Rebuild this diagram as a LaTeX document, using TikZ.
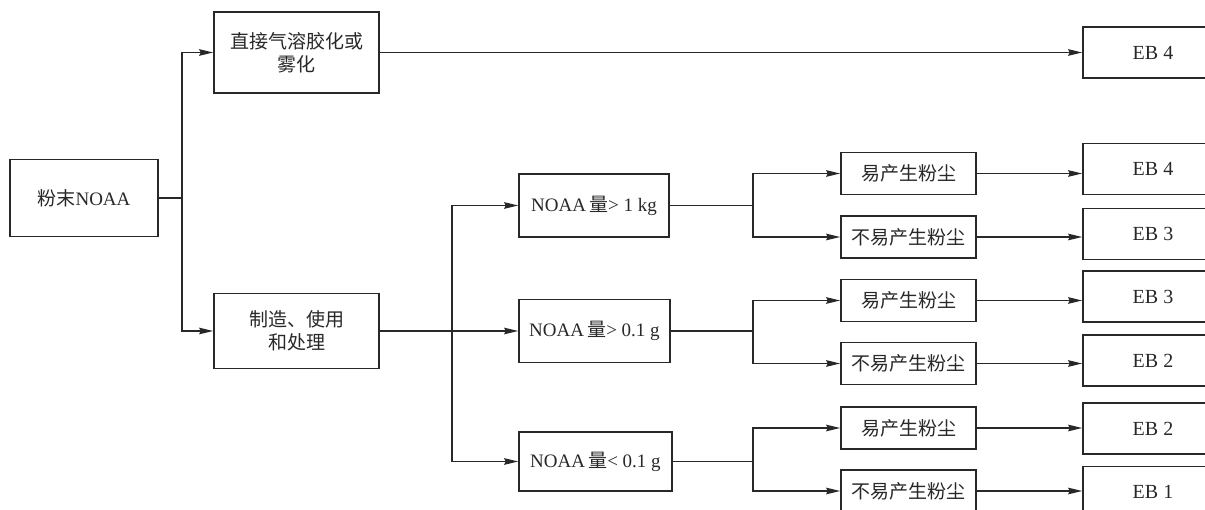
\documentclass[tikz,border=0pt]{standalone}
\usepackage{fontspec}
\newfontfamily\cjk{Noto Sans CJK SC}
\newfontfamily\tnr{Liberation Serif}
\usetikzlibrary{arrows.meta}
\definecolor{lc}{RGB}{40,40,40}
\begin{document}
\begin{tikzpicture}[x=1pt,y=-1pt,
  box/.style={draw=lc, line width=1.6pt, fill=white, inner sep=0pt, align=center,
    text=lc, font=\fontsize{19}{23}\selectfont},
  cbox/.style={box, font=\fontsize{19}{23}\selectfont\cjk},
  ebox/.style={box, font=\fontsize{20}{24}\selectfont\tnr, minimum width=140pt, minimum height=51pt},
  dbox/.style={cbox, minimum width=135pt, minimum height=42pt},
  nbox/.style={box, minimum width=150pt, minimum height=63pt},
  conn/.style={draw=lc, line width=1.6pt},
  arr/.style={conn, -{Stealth[length=14pt,width=6.5pt,inset=1.5pt]}}]
\useasboundingbox (0,0) rectangle (1205,510);
\fill[white] (0,0) rectangle (1205,510);
% left column
\node[box, minimum width=148pt, minimum height=77pt] (p) at (84,198) {{\cjk 粉末}{\tnr NOAA}};
\node[cbox, minimum width=165pt, minimum height=81pt] (a) at (296.5,52.5) {直接气溶胶化或\\雾化};
\node[cbox, minimum width=165pt, minimum height=75pt] (m) at (296.5,331) {制造、使用\\和处理};
% quantity boxes
\node[nbox] (n1) at (594,205.5) {{\tnr NOAA\,}{\cjk 量}{\tnr > 1 kg}};
\node[nbox, minimum width=151pt] (n2) at (594.5,331) {{\tnr NOAA\,}{\cjk 量}{\tnr > 0.1 g}};
\node[nbox, minimum width=153pt, minimum height=59pt] (n3) at (595.5,461.5) {{\tnr NOAA\,}{\cjk 量}{\tnr < 0.1 g}};
% dust boxes
\node[dbox] (d1) at (908.5,173.5) {易产生粉尘};
\node[dbox] (d2) at (908.5,237) {不易产生粉尘};
\node[dbox] (d3) at (908.5,300.5) {易产生粉尘};
\node[dbox] (d4) at (908.5,363.5) {不易产生粉尘};
\node[dbox] (d5) at (908.5,428) {易产生粉尘};
\node[dbox] (d6) at (908.5,491) {不易产生粉尘};
% EB boxes
\node[ebox] (e0) at (1153,52.5) {EB 4};
\node[ebox] (e1) at (1153,169) {EB 4};
\node[ebox] (e2) at (1153,234) {EB 3};
\node[ebox] (e3) at (1153,296.5) {EB 3};
\node[ebox] (e4) at (1153,360.5) {EB 2};
\node[ebox] (e5) at (1153,428.5) {EB 2};
\node[ebox] (e6) at (1153,492) {EB 1};
% branch columns
\coordinate (b1) at (182,0);
\coordinate (b2) at (452,0);
\coordinate (b3) at (753,0);
% connectors
\draw[conn] (p.east) -- (p.east -| b1);
\draw[arr] (p.east -| b1) |- (a.west);
\draw[arr] (p.east -| b1) |- (m.west);
\draw[arr] (a.east) -- (e0.west);
\draw[arr] (m.east) -- (n2.west);
\draw[arr] (m.east -| b2) |- (n1.west);
\draw[arr] (m.east -| b2) |- (n3.west);
\draw[conn] (n1.east) -- (n1.east -| b3);
\draw[arr] (n1.east -| b3) |- (d1.west);
\draw[arr] (n1.east -| b3) |- (d2.west);
\draw[conn] (n2.east) -- (n2.east -| b3);
\draw[arr] (n2.east -| b3) |- (d3.west);
\draw[arr] (n2.east -| b3) |- (d4.west);
\draw[conn] (n3.east) -- (n3.east -| b3);
\draw[arr] (n3.east -| b3) |- (d5.west);
\draw[arr] (n3.east -| b3) |- (d6.west);
\draw[arr] (d1.east) -- (d1.east -| e1.west);
\draw[arr] (d2.east) -- (d2.east -| e2.west);
\draw[arr] (d3.east) -- (d3.east -| e3.west);
\draw[arr] (d4.east) -- (d4.east -| e4.west);
\draw[arr] (d5.east) -- (d5.east -| e5.west);
\draw[arr] (d6.east) -- (d6.east -| e6.west);
\end{tikzpicture}
\end{document}
